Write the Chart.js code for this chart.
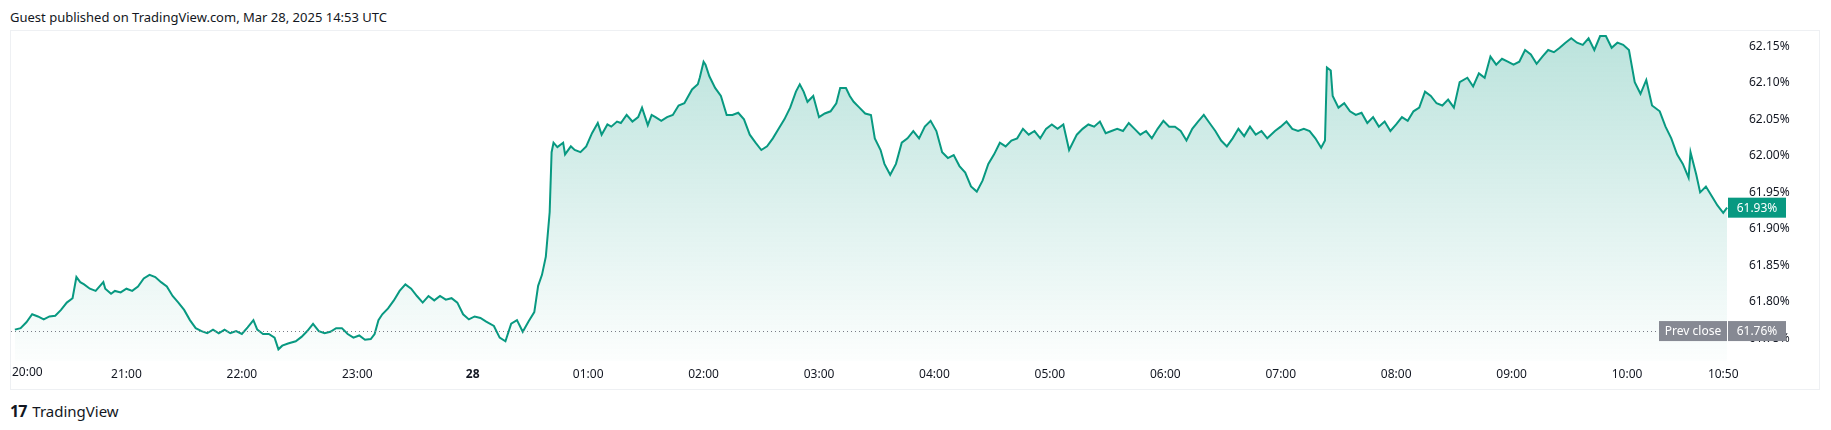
<!DOCTYPE html>
<html>
<head>
<meta charset="utf-8">
<script src="https://cdn.jsdelivr.net/npm/chart.js@4"></script>
<style>
  body { margin: 0; width: 1831px; height: 430px; background: #fff; font-family: "Noto Sans", "DejaVu Sans", sans-serif; color: #131722; position: relative; overflow: hidden; }
  #titulo { position: absolute; left: 10px; top: 8px; font-size: 13px; }
  #marco { position: absolute; left: 10px; top: 30px; width: 1808px; height: 358px; border: 1px solid #eef0f3; }
  #grafico { display: block; }
  #pie { position: absolute; left: 10px; top: 400px; font-size: 15px; display: flex; align-items: center; gap: 6px; }
  #pie b { font-size: 16px; letter-spacing: -1px; }
</style>
</head>
<body>
<div id="titulo">Guest published on TradingView.com, Mar 28, 2025 14:53 UTC</div>
<div id="marco"><canvas id="grafico" width="1808" height="358"></canvas></div>
<div id="pie"><b>17</b><span>TradingView</span></div>
<script>
// datos: minutos desde las 20:00 y valor en %
const minutos = [2,5,8,11,14,17,20,23,26,29,32,34,36,38,41,44,48,49,52,54,57,60,63,66,69,72,75,78,81,84,87,90,93,96,99,102,105,108,111,114,117,120,123,126,128,131,134,137,139,141,144,148,151,154,157,160,163,166,169,172,175,178,181,184,187,189,191,193,196,199,202,205,208,211,214,217,220,223,226,229,232,235,238,241,244,247,251,254,257,260,263,266,269,272,274,276,278,280,281,282,284,287,288,291,293,296,299,302,305,307,310,312,315,317,320,323,326,328,331,333,335,338,341,344,347,350,354,357,358,360,361,363,366,369,372,375,378,381,384,387,390,393,396,399,402,405,408,410,412,414,417,420,423,426,429,431,434,436,438,441,444,447,449,452,454,457,460,463,466,469,472,475,478,481,484,487,490,493,496,499,502,505,508,511,514,517,520,523,526,529,532,535,538,541,544,547,550,554,557,560,563,566,569,572,575,578,581,584,587,590,593,596,599,602,605,608,611,614,617,620,623,626,629,632,635,638,641,644,647,650,653,657,660,663,666,669,672,675,678,681,683,684,686,687,690,693,696,699,702,705,708,711,714,717,720,723,726,729,732,735,738,741,744,747,750,753,757,760,763,766,769,772,775,778,781,784,787,790,793,796,799,802,805,808,811,814,817,820,823,826,829,832,835,838,841,844,847,850,853,857,860,863,866,869,872,873,876,878,881,884,887,890,892];
const valores = [61.762,61.764,61.772,61.783,61.780,61.776,61.780,61.781,61.789,61.799,61.805,61.834,61.827,61.824,61.818,61.815,61.827,61.818,61.811,61.815,61.813,61.818,61.815,61.821,61.832,61.837,61.834,61.827,61.821,61.808,61.799,61.789,61.775,61.764,61.760,61.757,61.762,61.757,61.762,61.757,61.760,61.756,61.765,61.775,61.762,61.756,61.756,61.751,61.735,61.740,61.743,61.746,61.752,61.760,61.770,61.760,61.757,61.759,61.764,61.764,61.756,61.751,61.754,61.748,61.749,61.756,61.775,61.783,61.791,61.802,61.815,61.824,61.818,61.808,61.799,61.808,61.802,61.808,61.803,61.805,61.799,61.783,61.776,61.780,61.778,61.773,61.767,61.751,61.746,61.770,61.775,61.759,61.773,61.786,61.822,61.837,61.862,61.923,62.005,62.018,62.012,62.018,62.002,62.013,62.008,62.005,62.013,62.031,62.045,62.029,62.043,62.040,62.047,62.045,62.056,62.047,62.053,62.066,62.042,62.056,62.053,62.048,62.053,62.056,62.069,62.072,62.091,62.098,62.107,62.129,62.125,62.109,62.093,62.082,62.056,62.056,62.059,62.050,62.029,62.018,62.008,62.013,62.024,62.037,62.050,62.066,62.088,62.098,62.088,62.074,62.082,62.053,62.058,62.061,62.072,62.093,62.093,62.082,62.074,62.066,62.058,62.056,62.024,62.008,61.989,61.974,61.989,62.018,62.024,62.034,62.024,62.040,62.048,62.034,62.005,61.997,62.001,61.986,61.977,61.958,61.951,61.966,61.989,62.002,62.018,62.013,62.021,62.024,62.037,62.029,62.034,62.024,62.037,62.043,62.037,62.043,62.008,62.029,62.037,62.043,62.040,62.047,62.031,62.034,62.037,62.034,62.045,62.037,62.029,62.034,62.024,62.037,62.048,62.040,62.040,62.034,62.021,62.037,62.047,62.056,62.045,62.034,62.021,62.013,62.024,62.037,62.027,62.040,62.029,62.034,62.024,62.034,62.040,62.047,62.037,62.034,62.037,62.034,62.024,62.011,62.021,62.121,62.117,62.082,62.066,62.072,62.061,62.056,62.059,62.045,62.053,62.040,62.047,62.034,62.043,62.053,62.048,62.061,62.066,62.088,62.082,62.072,62.069,62.077,62.066,62.101,62.107,62.095,62.113,62.107,62.136,62.125,62.133,62.129,62.125,62.129,62.145,62.139,62.126,62.136,62.145,62.142,62.148,62.155,62.161,62.155,62.152,62.161,62.145,62.164,62.164,62.148,62.155,62.152,62.145,62.101,62.085,62.104,62.069,62.061,62.040,62.024,62.002,61.989,61.970,62.005,61.974,61.950,61.958,61.945,61.932,61.922,61.929];
const prevClose = 61.76;
const yTicks = [61.75, 61.80, 61.85, 61.90, 61.95, 62.00, 62.05, 62.10, 62.15];
const xTicks = [0, 60, 120, 180, 240, 300, 360, 420, 480, 540, 600, 660, 720, 780, 840, 890];
const xLabels = ["20:00", "21:00", "22:00", "23:00", "28", "01:00", "02:00", "03:00", "04:00", "05:00", "06:00", "07:00", "08:00", "09:00", "10:00", "10:50"];

const verde = "#089981";
const fuente = "12px 'Noto Sans', sans-serif";
const puntos = minutos.map((m, i) => ({ x: m, y: valores[i] }));

function caja(ctx, x, y, w, color, texto) {
  ctx.fillStyle = color;
  ctx.fillRect(x, y - 10, w, 20);
  ctx.fillStyle = "#fff";
  ctx.fillText(texto, x + w / 2, y + 1);
}

const etiquetas = {
  id: "etiquetas",
  afterDraw(chart) {
    const ctx = chart.ctx;
    const ys = chart.scales.y, xs = chart.scales.x;
    const area = chart.chartArea;
    const yp = ys.getPixelForValue(prevClose);
    ctx.save();
    ctx.strokeStyle = "#787b86";
    ctx.lineWidth = 1;
    ctx.setLineDash([1, 3]);
    ctx.beginPath();
    ctx.moveTo(area.left, Math.round(yp) + 0.5);
    ctx.lineTo(area.right - 10, Math.round(yp) + 0.5);
    ctx.stroke();
    ctx.setLineDash([]);
    ctx.font = fuente;
    ctx.textBaseline = "middle";
    ctx.textAlign = "center";
    caja(ctx, area.right - 70, yp, 68, "#868993", "Prev close");
    caja(ctx, area.right - 1, yp, 58, "#868993", prevClose.toFixed(2) + "%");
    const ultimo = valores[valores.length - 1];
    caja(ctx, area.right - 1, ys.getPixelForValue(ultimo), 58, verde, ultimo.toFixed(2) + "%");
    // primera etiqueta del eje x, alineada a la izquierda
    ctx.fillStyle = "#131722";
    ctx.textAlign = "left";
    ctx.textBaseline = "top";
    ctx.fillText(xLabels[0], xs.getPixelForValue(xTicks[0]) + 1, area.bottom + 6);
    ctx.restore();
  }
};

new Chart(document.getElementById("grafico").getContext("2d"), {
  type: "line",
  data: {
    datasets: [{
      data: puntos,
      borderColor: verde,
      borderWidth: 2,
      pointRadius: 0,
      tension: 0,
      fill: "start",
      backgroundColor: (c) => {
        const a = c.chart.chartArea;
        if (!a) return "rgba(8,153,129,0.1)";
        const g = c.chart.ctx.createLinearGradient(0, a.top, 0, a.bottom);
        g.addColorStop(0, "rgba(8,153,129,0.28)");
        g.addColorStop(1, "rgba(8,153,129,0.01)");
        return g;
      }
    }]
  },
  options: {
    responsive: false,
    animation: false,
    layout: { padding: 0 },
    plugins: { legend: { display: false }, tooltip: { enabled: false } },
    scales: {
      x: {
        type: "linear",
        min: 0,
        max: 893,
        grid: { display: false, drawTicks: false },
        border: { display: false },
        afterBuildTicks: (s) => { s.ticks = xTicks.map(v => ({ value: v })); },
        afterFit: (s) => { s.height = 28; s.paddingLeft = 0; s.paddingRight = 0; },
        ticks: {
          maxRotation: 0,
          autoSkip: false,
          color: "#131722",
          padding: 6,
          font: (c) => ({ size: 12, family: "'Noto Sans', sans-serif", weight: c.tick && c.tick.value === 240 ? "bold" : "normal" }),
          callback: (v) => v === xTicks[0] ? "" : xLabels[xTicks.indexOf(v)]
        }
      },
      y: {
        position: "right",
        min: 61.719,
        max: 62.171,
        grid: { display: false, drawTicks: false },
        border: { display: false },
        afterBuildTicks: (s) => { s.ticks = yTicks.map(v => ({ value: v })); },
        afterFit: (s) => { s.width = 90; s.paddingTop = 0; s.paddingBottom = 0; },
        ticks: {
          color: "#131722",
          padding: 20,
          font: { size: 12, family: "'Noto Sans', sans-serif" },
          callback: (v) => v.toFixed(2) + "%"
        }
      }
    }
  },
  plugins: [etiquetas]
});
</script>
</body>
</html>
